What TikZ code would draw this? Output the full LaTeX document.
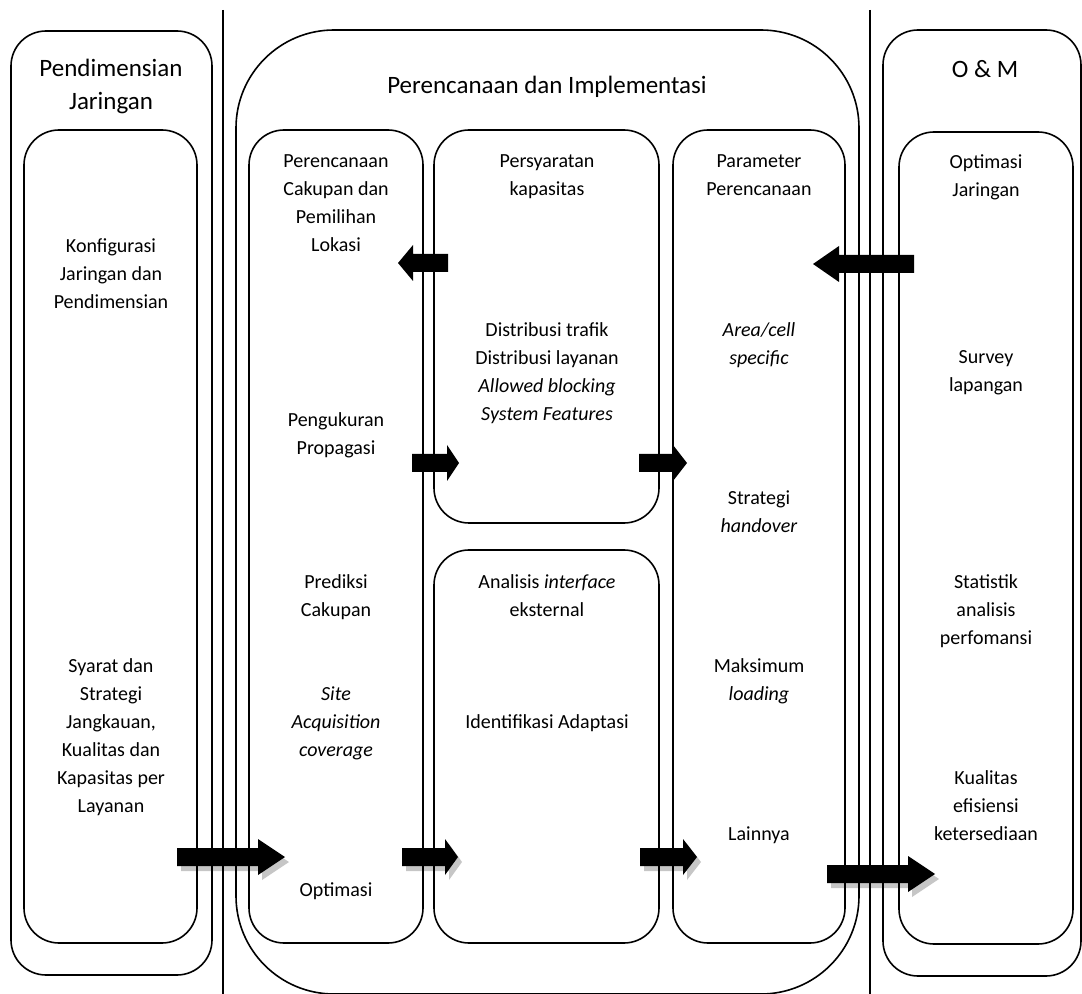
\documentclass[tikz,border=0pt]{standalone}
\usepackage{fontspec}
\setmainfont{Carlito}
\usetikzlibrary{fit}

% block arrow: tail x, head base x, tip x, centre y
\newcommand\blockarrow[5][]{%
  \fill[#1] (#2,#5-9) -- (#3,#5-9) -- (#3,#5-18) -- (#4,#5)
     -- (#3,#5+18) -- (#3,#5+9) -- (#2,#5+9) -- cycle;}

\begin{document}
\begin{tikzpicture}[x=0.5pt,y=-0.5pt,
  line width=0.8pt,
  panel/.style={draw, rounded corners=17.5pt, inner sep=0pt, fit={#1}},
  bigpanel/.style={draw, rounded corners=49pt, inner sep=0pt, fit={#1}},
  body/.style={anchor=north, align=center, inner sep=0pt,
    font=\fontsize{10pt}{14pt}\selectfont},
  title/.style={anchor=north, align=center, inner sep=0pt,
    font=\fontsize{12.5pt}{16.5pt}\selectfont},
  shadow/.style={gray!45, shift={(4,5)}}]
\useasboundingbox (0,0) rectangle (1082,994);

% shadows of the lower arrows go underneath everything
\blockarrow[shadow]{177}{258}{285}{857}
\blockarrow[shadow]{402}{445}{458}{857}
\blockarrow[shadow]{640}{683}{697}{857}
\blockarrow[shadow]{827}{908}{935}{874}

% separators
\coordinate (s1t) at (223,10);  \coordinate (s1b) at (223,994);
\coordinate (s2t) at (870,10);  \coordinate (s2b) at (870,994);
\draw (s1t) -- (s1b);
\draw (s2t) -- (s2b);

% phase panels
\node[panel={(11,31) (212,975)}] (dim) {};
\node[panel={(24,130) (197,943)}] (dimin) {};
\node[bigpanel={(236,30) (859,994)}] (plan) {};
\node[panel={(883,30) (1081,976)}] (om) {};
\node[panel={(899,132) (1073,944)}] (omin) {};

% planning sub-panels
\node[panel={(249,130) (423,943)}] (cov) {};
\node[panel={(434,130) (659,523)}] (cap) {};
\node[panel={(434,550) (659,943)}] (itf) {};
\node[panel={(673,130) (845,943)}] (par) {};

% headings
\node[title] (tdim) at (111,58) {Pendimensian\\Jaringan};
\node[title] (tplan) at (547,75) {Perencanaan dan Implementasi};
\node[title] (tom) at (985,60) {O \& M};

% dimensioning
\node[body] at (111,238) {Konfigurasi\\Jaringan dan\\Pendimensian};
\node[body] at (111,658) {Syarat dan\\Strategi\\Jangkauan,\\Kualitas dan\\Kapasitas per\\Layanan};

% coverage planning
\node[body] at (336,154) {Perencanaan\\Cakupan dan\\Pemilihan\\Lokasi};
\node[body] at (336,412) {Pengukuran\\Propagasi};
\node[body] at (336,574) {Prediksi\\Cakupan};
\node[body] at (336,686) {\itshape Site\\\itshape Acquisition\\\itshape coverage};
\node[body] at (336,882) {Optimasi};

% capacity requirements
\node[body] at (547,154) {Persyaratan\\kapasitas};
\node[body] at (547,322) {Distribusi trafik\\Distribusi layanan\\\itshape Allowed blocking\\\itshape System Features};
\node[body] at (547,574) {Analisis \textit{interface}\\eksternal};
\node[body] at (547,714) {Identifikasi Adaptasi};

% planning parameters
\node[body] at (759,154) {Parameter\\Perencanaan};
\node[body] at (759,322) {\itshape Area/cell\\\itshape specific};
\node[body] at (759,490) {Strategi\\\textit{handover}};
\node[body] at (759,658) {Maksimum\\\textit{loading}};
\node[body] at (759,826) {Lainnya};

% operation and maintenance
\node[body] at (986,154) {Optimasi\\Jaringan};
\node[body] at (986,350) {Survey\\lapangan};
\node[body] at (986,574) {Statistik\\analisis\\perfomansi};
\node[body] at (986,770) {Kualitas\\efisiensi\\ketersediaan};

% feedback arrows (pointing left)
\blockarrow{448}{413}{398}{263}
\blockarrow{914}{839}{813}{264}
% forward arrows
\blockarrow{412}{447}{459}{463}
\blockarrow{639}{673}{687}{463}
\blockarrow{177}{258}{285}{857}
\blockarrow{402}{445}{458}{857}
\blockarrow{640}{683}{697}{857}
\blockarrow{827}{908}{935}{874}
\end{tikzpicture}
\end{document}
